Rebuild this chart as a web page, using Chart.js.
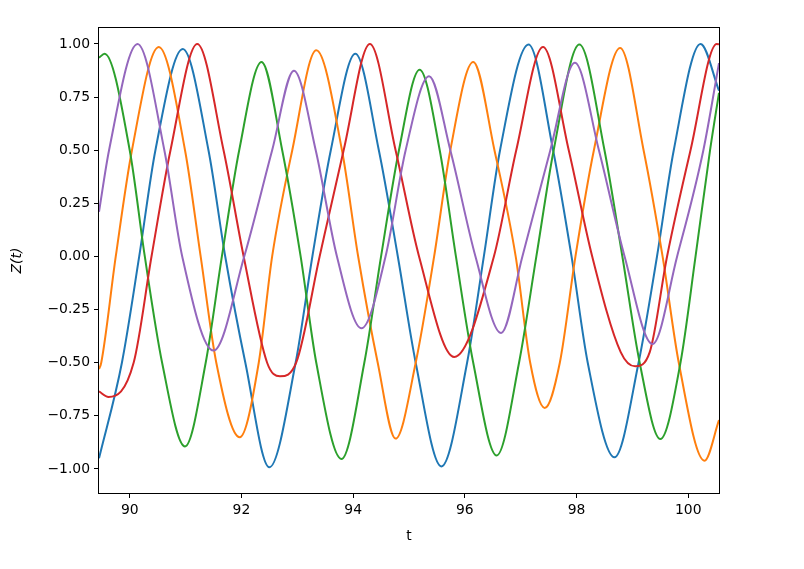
<!DOCTYPE html>
<html>
<head>
  <title>Z(t)</title>
  <script src="https://cdn.jsdelivr.net/npm/chart.js"></script>
  <style>
    body { margin: 0; background: #fff; }
  </style>
</head>
<body>
  <canvas id="zChart" width="804" height="569"></canvas>

  <script>
    // values: peaks, troughs and the 0 / +-0.5 crossings
    const blueT = [89.45, 89.86, 90.17, 90.46, 90.95, 91.41, 91.71, 92.07, 92.50, 92.97, 93.27, 93.60, 94.04, 94.46, 94.80, 95.12, 95.58, 96.04, 96.34, 96.63, 97.14, 97.58, 97.91, 98.20, 98.68, 99.11, 99.44, 99.74, 100.22, 100.55];
    const blueZ = [-0.95, -0.5, 0, 0.5, 0.976, 0.5, 0, -0.5, -0.992, -0.5, 0, 0.5, 0.954, 0.5, 0, -0.5, -0.988, -0.5, 0, 0.5, 0.997, 0.5, 0, -0.5, -0.945, -0.5, 0, 0.5, 1.0, 0.78];

    const orangeT = [89.45, 89.49, 89.75, 90.04, 90.52, 90.99, 91.27, 91.55, 91.97, 92.31, 92.55, 92.91, 93.34, 93.80, 94.09, 94.44, 94.76, 95.12, 95.45, 95.74, 96.15, 96.53, 96.91, 97.17, 97.43, 97.70, 97.98, 98.31, 98.78, 99.20, 99.54, 99.83, 100.29, 100.55];
    const orangeZ = [-0.53, -0.5, 0, 0.5, 0.986, 0.5, 0, -0.5, -0.851, -0.5, 0, 0.5, 0.970, 0.5, 0, -0.5, -0.857, -0.5, 0, 0.5, 0.915, 0.5, 0, -0.5, -0.713, -0.5, 0, 0.5, 0.981, 0.5, 0, -0.5, -0.961, -0.77];

    const greenT = [89.45, 89.55, 90.00, 90.27, 90.58, 90.99, 91.36, 91.65, 91.96, 92.36, 92.73, 93.06, 93.34, 93.79, 94.20, 94.50, 94.82, 95.19, 95.55, 95.84, 96.15, 96.57, 96.97, 97.28, 97.59, 98.05, 98.50, 98.82, 99.13, 99.50, 99.86, 100.13, 100.39, 100.55];
    const greenZ = [0.935, 0.954, 0.5, 0, -0.5, -0.894, -0.5, 0, 0.5, 0.915, 0.5, 0, -0.5, -0.953, -0.5, 0, 0.5, 0.879, 0.5, 0, -0.5, -0.936, -0.5, 0, 0.5, 0.997, 0.5, 0, -0.5, -0.859, -0.5, 0, 0.5, 0.77];

    const redT = [89.45, 89.62, 90.07, 90.39, 90.73, 91.21, 91.68, 92.04, 92.46, 92.69, 92.98, 93.40, 93.83, 94.30, 94.76, 95.18, 95.81, 96.52, 96.92, 97.40, 97.86, 98.28, 98.79, 99.05, 99.31, 99.62, 100.04, 100.51, 100.55];
    const redZ = [-0.635, -0.661, -0.5, 0, 0.5, 1.0, 0.5, 0, -0.5, -0.564, -0.5, 0, 0.5, 1.0, 0.5, 0, -0.473, 0, 0.5, 0.986, 0.5, 0, -0.45, -0.517, -0.45, 0, 0.5, 1.0, 0.998];

    const purpleT = [89.45, 89.63, 90.14, 90.62, 90.94, 91.50, 92.05, 92.55, 92.94, 93.33, 93.71, 94.15, 94.58, 94.94, 95.36, 95.74, 96.19, 96.65, 97.03, 97.53, 97.97, 98.40, 98.86, 99.36, 99.80, 100.27, 100.55];
    const purpleZ = [0.21, 0.5, 1.0, 0.5, 0, -0.443, 0, 0.5, 0.874, 0.5, 0, -0.338, 0, 0.5, 0.848, 0.5, 0, -0.36, 0, 0.5, 0.911, 0.5, 0, -0.412, 0, 0.5, 0.91];

    const xTicks = [90, 92, 94, 96, 98, 100];
    const yTicks = [-1, -0.75, -0.5, -0.25, 0, 0.25, 0.5, 0.75, 1];

    function pts(ts, zs) {
      return ts.map((t, i) => ({ x: t, y: zs[i] }));
    }

    function line(ts, zs, color, order) {
      return {
        data: pts(ts, zs),
        borderColor: color,
        borderWidth: 2,
        pointRadius: 0,
        fill: false,
        cubicInterpolationMode: 'monotone',
        order: order
      };
    }

    // matplotlib draws all four spines, Chart.js only two
    const frame = {
      id: 'frame',
      afterDatasetsDraw(chart) {
        const { ctx, chartArea: a } = chart;
        ctx.save();
        ctx.strokeStyle = '#000';
        ctx.lineWidth = 1;
        ctx.strokeRect(a.left - 0.5, a.top - 0.5, a.right - a.left + 1, a.bottom - a.top + 1);
        ctx.restore();
      }
    };

    const tickFont = { family: 'DejaVu Sans', size: 13.9 };

    const ctx = document.getElementById('zChart').getContext('2d');
    new Chart(ctx, {
      type: 'line',
      data: {
        datasets: [
          line(blueT, blueZ, '#1f77b4', 4),
          line(orangeT, orangeZ, '#ff7f0e', 3),
          line(greenT, greenZ, '#2ca02c', 2),
          line(redT, redZ, '#d62728', 1),
          line(purpleT, purpleZ, '#9467bd', 0)
        ]
      },
      options: {
        responsive: false,
        animation: false,
        events: [],
        layout: { padding: { top: 28, right: 85, left: 0, bottom: 0 } },
        plugins: {
          legend: { display: false },
          tooltip: { enabled: false }
        },
        scales: {
          x: {
            type: 'linear',
            min: 89.45,
            max: 100.55,
            afterBuildTicks: s => { s.ticks = xTicks.map(v => ({ value: v })); },
            afterFit: s => { s.height = 76; },
            grid: { drawOnChartArea: false, drawTicks: true, tickLength: 5, color: '#000' },
            border: { display: false },
            ticks: {
              color: '#000',
              font: tickFont,
              padding: 4,
              maxRotation: 0,
              autoSkip: false,
              callback: v => String(v)
            },
            title: {
              display: true,
              text: 't',
              color: '#000',
              font: tickFont,
              padding: { top: 0, bottom: 24 }
            }
          },
          y: {
            type: 'linear',
            min: -1.113,
            max: 1.075,
            afterBuildTicks: s => { s.ticks = yTicks.map(v => ({ value: v })); },
            afterFit: s => { s.width = 99; },
            grid: { drawOnChartArea: false, drawTicks: true, tickLength: 5, color: '#000' },
            border: { display: false },
            ticks: {
              color: '#000',
              font: tickFont,
              padding: 4,
              autoSkip: false,
              callback: v => (v < 0 ? '\u2212' : '') + Math.abs(v).toFixed(2)
            },
            title: {
              display: true,
              text: 'Z(t)',
              color: '#000',
              font: { family: 'DejaVu Sans', size: 13.9, style: 'italic' },
              padding: { top: 9, bottom: 0 }
            }
          }
        }
      },
      plugins: [frame]
    });
  </script>
</body>
</html>
